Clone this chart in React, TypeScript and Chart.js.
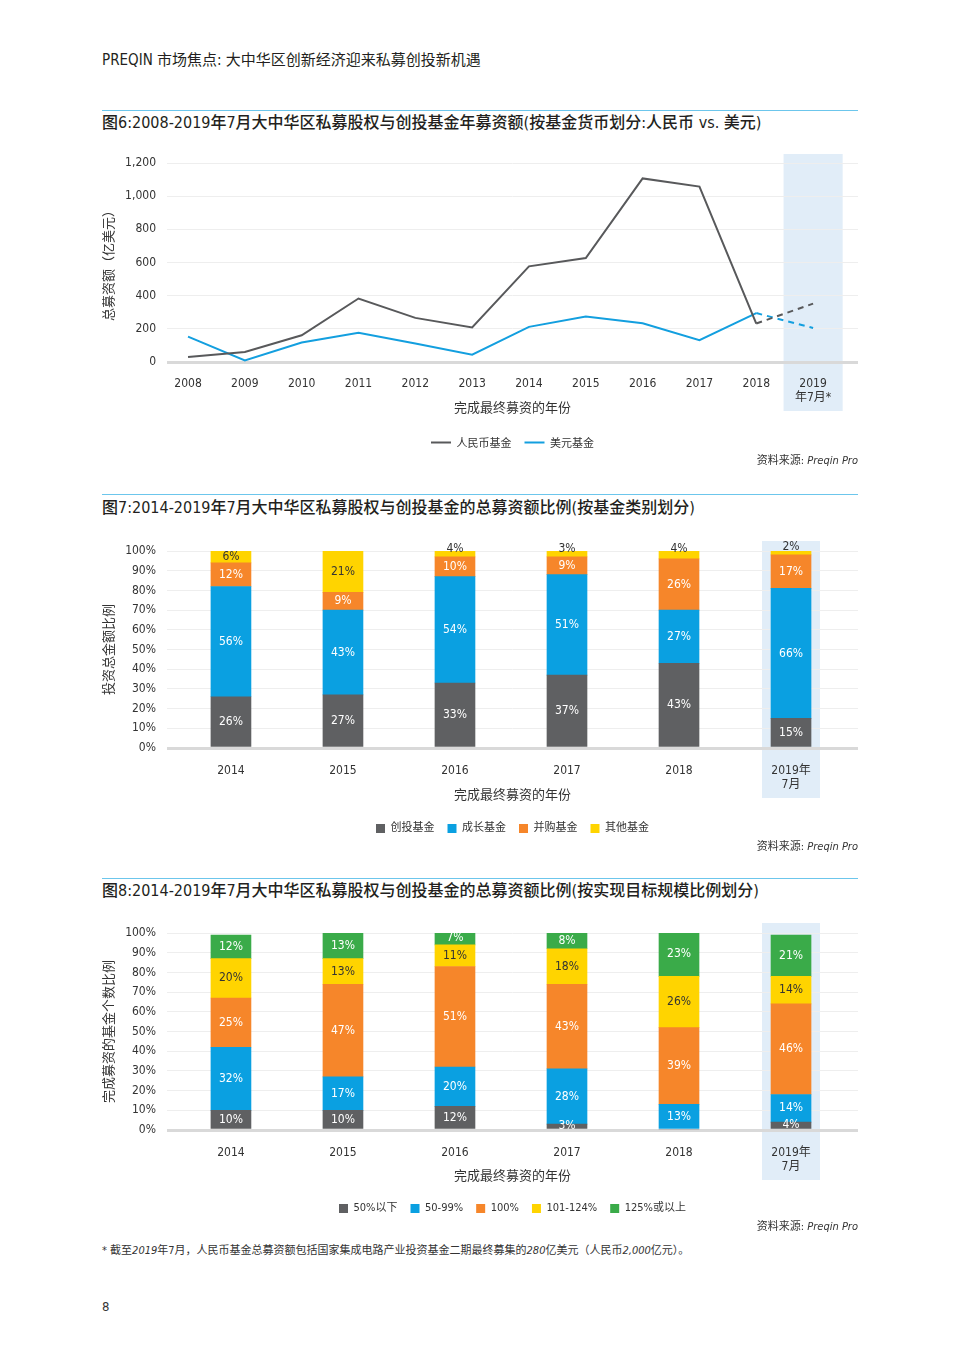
import { useEffect, useRef } from 'react';
import { Chart, registerables } from 'chart.js';

Chart.register(...registerables);

// ---------- data ----------
const lineYears = [2008, 2009, 2010, 2011, 2012, 2013, 2014, 2015, 2016, 2017, 2018, 2019];
const lineYearLabels: (string | string[])[] = ['2008', '2009', '2010', '2011', '2012', '2013', '2014', '2015', '2016', '2017', '2018', ['2019', '年7月*']];
const rmbFunds = [30, 60, 161, 383, 266, 208, 577, 627, 1107, 1058, 232, 352];
const usdFunds = [153, 10, 117, 177, 111, 44, 212, 274, 234, 131, 295, 205];
const lineYTicks = [0, 200, 400, 600, 800, 1000, 1200];
const lineSeriesNames = ['人民币基金', '美元基金'];

const barYears = [2014, 2015, 2016, 2017, 2018, 2019];
const barYearLabels: (string | string[])[] = ['2014', '2015', '2016', '2017', '2018', ['2019年', '7月']];
const pctTicks = [0, 10, 20, 30, 40, 50, 60, 70, 80, 90, 100];

const typeNames = ['创投基金', '成长基金', '并购基金', '其他基金'];
const vcShare = [26, 27, 33, 37, 43, 15];
const growthShare = [56, 43, 54, 51, 27, 66];
const buyoutShare = [12, 9, 10, 9, 26, 17];
const otherShare = [6, 21, 4, 3, 4, 2];

const sizeNames = ['50%以下', '50-99%', '100%', '101-124%', '125%或以上'];
const below50 = [10, 10, 12, 3, 0, 4];
const pct50to99 = [32, 17, 20, 28, 13, 14];
const pct100 = [25, 47, 51, 43, 39, 46];
const pct101to124 = [20, 13, 11, 18, 26, 14];
const pct125plus = [12, 13, 7, 8, 23, 21];

// ---------- styles ----------
const FONT = "'DejaVu Sans Condensed', 'Noto Sans CJK SC', sans-serif";
const CJK = "'Noto Sans CJK SC', sans-serif";
const TEXT = '#333333';
const C_GRAY = '#5f6062';
const C_BLUE = '#0aa0e1';
const C_ORANGE = '#f6862a';
const C_YELLOW = '#ffd400';
const C_GREEN = '#3aab49';
const LINE_GRAY = '#58595b';
const LINE_BLUE = '#139fdf';
const BAND = '#e1edf8';
const RULE = '#6cc6ec';

const typeColors = [C_GRAY, C_BLUE, C_ORANGE, C_YELLOW];
const typeLabelColors = ['#ffffff', '#ffffff', '#ffffff', '#333333'];
const sizeColors = [C_GRAY, C_BLUE, C_ORANGE, C_YELLOW, C_GREEN];
const sizeLabelColors = ['#ffffff', '#ffffff', '#ffffff', '#333333', '#ffffff'];

// ---------- plugins ----------
const bandPlugin = {
  id: 'band',
  beforeDraw(chart: any, _args: any, opts: any) {
    const { ctx, chartArea, scales } = chart;
    const l = scales.x.getPixelForValue(opts.center - opts.half);
    const r = scales.x.getPixelForValue(opts.center + opts.half);
    ctx.save();
    ctx.fillStyle = opts.color;
    ctx.fillRect(l, chartArea.top - opts.above, r - l, chartArea.bottom - chartArea.top + opts.above + opts.below);
    ctx.restore();
  },
};

const barLabelPlugin = {
  id: 'barLabels',
  afterDatasetsDraw(chart: any, _args: any, opts: any) {
    const ctx = chart.ctx;
    ctx.save();
    ctx.font = `12px ${FONT}`;
    ctx.textAlign = 'center';
    ctx.textBaseline = 'middle';
    const n = chart.data.datasets.length;
    chart.data.datasets.forEach((ds: any, di: number) => {
      const meta = chart.getDatasetMeta(di);
      meta.data.forEach((el: any, i: number) => {
        const v = ds.data[i].y;
        if (!v) return;
        const p = el.getProps(['x', 'y', 'base'], true);
        let cy = (p.y + p.base) / 2;
        if (opts.smallTop && di === n - 1 && v <= 4) {
          cy = Math.max(p.y, chart.chartArea.top) - 2 - (v <= 2 ? 2 : 0);
        }
        ctx.fillStyle = opts.colors[di];
        ctx.fillText(v + '%', p.x, cy);
      });
    });
    ctx.restore();
  },
};

function yGrid() {
  return {
    drawTicks: false,
    color: (c: any) => (c.tick && c.tick.value === 0 ? '#d9d9d9' : '#eeeeee'),
    lineWidth: (c: any) => (c.tick && c.tick.value === 0 ? 3 : 1),
  };
}

function makeLineChart(canvas: HTMLCanvasElement) {
  const colors = [LINE_GRAY, LINE_BLUE];
  const series = [rmbFunds, usdFunds];
  return new Chart(canvas, {
    type: 'line',
    data: {
      datasets: series.map((s, k) => ({
        label: lineSeriesNames[k],
        data: lineYears.map((x, i) => ({ x, y: s[i] })),
        borderColor: colors[k],
        backgroundColor: colors[k],
        borderWidth: 2,
        pointRadius: 0,
        tension: 0,
        segment: {
          borderDash: (c: any) => (c.p0DataIndex >= lineYears.length - 2 ? [6, 5] : undefined),
        },
      })),
    } as any,
    options: {
      animation: false,
      responsive: false,
      layout: { padding: { top: 22, right: 2, left: 0, bottom: 0 } },
      scales: {
        x: {
          type: 'linear',
          min: 2007.63,
          max: 2019.79,
          offset: false,
          afterBuildTicks: (s: any) => {
            s.ticks = lineYears.map((v) => ({ value: v }));
          },
          afterFit: (s: any) => {
            s.height = 62;
          },
          ticks: {
            autoSkip: false,
            maxRotation: 0,
            padding: 14.5,
            color: TEXT,
            font: { size: 12, family: FONT },
            callback: (_v: any, i: number) => lineYearLabels[i],
          },
          grid: { display: false, drawTicks: false },
          border: { display: false },
          title: { display: true, text: '完成最终募资的年份', color: TEXT, font: { size: 13, family: CJK }, padding: { top: 0, bottom: 9 } },
        },
        y: {
          min: 0,
          max: 1200,
          afterBuildTicks: (s: any) => {
            s.ticks = lineYTicks.map((v) => ({ value: v }));
          },
          afterFit: (s: any) => {
            s.width = 67;
          },
          ticks: {
            padding: 11,
            color: TEXT,
            font: { size: 12, family: FONT },
            callback: (v: any) => Number(v).toLocaleString('en-US'),
          },
          grid: yGrid(),
          border: { display: false },
          title: { display: true, text: '总募资额（亿美元）', color: TEXT, font: { size: 13, family: CJK }, padding: 0 },
        },
      },
      plugins: {
        legend: {
          position: 'bottom',
          fullSize: false,
          labels: {
            boxWidth: 20,
            boxHeight: 2,
            padding: 13,
            color: TEXT,
            font: { size: 11, family: CJK },
            generateLabels: (ch: any) =>
              ch.data.datasets.map((d: any, i: number) => ({
                text: d.label,
                fillStyle: d.borderColor,
                strokeStyle: d.borderColor,
                lineWidth: 0,
                hidden: false,
                datasetIndex: i,
                fontColor: TEXT,
              })),
          },
        },
        tooltip: { enabled: false },
        band: { center: 2019, half: 0.52, above: 9, below: 49, color: BAND },
      } as any,
    } as any,
    plugins: [bandPlugin],
  });
}

function makeBarChart(
  canvas: HTMLCanvasElement,
  names: string[],
  series: number[][],
  colors: string[],
  labelColors: string[],
  yTitle: string,
  xAxisHeight: number,
  titlePad: number,
  smallTop: boolean,
) {
  return new Chart(canvas, {
    type: 'bar',
    data: {
      datasets: series.map((s, k) => ({
        label: names[k],
        data: barYears.map((x, i) => ({ x, y: s[i] })),
        backgroundColor: colors[k],
        borderWidth: 0,
        barThickness: 40,
        clip: 0,
      })),
    } as any,
    options: {
      animation: false,
      responsive: false,
      layout: { padding: { top: 20, right: 2, left: 0, bottom: 0 } },
      scales: {
        x: {
          type: 'linear',
          stacked: true,
          offset: false,
          min: 2013.429,
          max: 2019.598,
          afterBuildTicks: (s: any) => {
            s.ticks = barYears.map((v) => ({ value: v }));
          },
          afterFit: (s: any) => {
            s.height = xAxisHeight;
          },
          ticks: {
            autoSkip: false,
            maxRotation: 0,
            padding: 15.5,
            color: TEXT,
            font: { size: 12, family: FONT },
            callback: (_v: any, i: number) => barYearLabels[i],
          },
          grid: { display: false, drawTicks: false, offset: false },
          border: { display: false },
          title: { display: true, text: '完成最终募资的年份', color: TEXT, font: { size: 13, family: CJK }, padding: { top: 0, bottom: titlePad } },
        },
        y: {
          stacked: true,
          min: 0,
          max: 100,
          afterBuildTicks: (s: any) => {
            s.ticks = pctTicks.map((v) => ({ value: v }));
          },
          afterFit: (s: any) => {
            s.width = 67;
          },
          ticks: {
            padding: 11,
            color: TEXT,
            font: { size: 12, family: FONT },
            callback: (v: any) => v + '%',
          },
          grid: yGrid(),
          border: { display: false },
          title: { display: true, text: yTitle, color: TEXT, font: { size: 13, family: CJK }, padding: 0 },
        },
      },
      plugins: {
        legend: {
          position: 'bottom',
          fullSize: false,
          labels: {
            boxWidth: 9,
            boxHeight: 9,
            padding: 13,
            color: TEXT,
            font: { size: 11, family: FONT },
          },
        },
        tooltip: { enabled: false },
        band: { center: 2019, half: 0.259, above: 10, below: 50, color: BAND },
        barLabels: { colors: labelColors, smallTop },
      } as any,
    } as any,
    plugins: [bandPlugin, barLabelPlugin],
  });
}

function ChartCanvas({ top, height, make }: { top: number; height: number; make: (c: HTMLCanvasElement) => any }) {
  const ref = useRef<HTMLCanvasElement | null>(null);
  useEffect(() => {
    if (!ref.current) return;
    const ch = make(ref.current);
    return () => ch.destroy();
  }, []);
  return (
    <canvas
      ref={ref}
      width={760}
      height={height}
      style={{ position: 'absolute', left: 100, top, width: 760, height }}
    />
  );
}

const abs = (left: number, top: number, extra: any = {}) => ({ position: 'absolute' as const, left, top, ...extra });

function Source({ center }: { center: number }) {
  return (
    <div style={{ position: 'absolute', right: 102, top: center - 8, lineHeight: '16px', fontSize: 11, color: TEXT, fontFamily: FONT, whiteSpace: 'nowrap' }}>
      资料来源: <i>Preqin Pro</i>
    </div>
  );
}

function Heading({ line, center, text }: { line: number; center: number; text: string }) {
  return (
    <>
      <div style={abs(102, line, { width: 756, height: 0, borderTop: `1px solid ${RULE}` })} />
      <div style={abs(102, center - 10, { lineHeight: '20px', fontSize: 16, fontWeight: 500, color: '#231f20', fontFamily: FONT, whiteSpace: 'nowrap' })}>
        {text}
      </div>
    </>
  );
}

export default function App() {
  return (
    <div style={{ position: 'relative', width: 960, height: 1357, background: '#ffffff', overflow: 'hidden', fontFamily: FONT }}>
      <style>{'body{margin:0;}'}</style>
      <div style={abs(102, 50, { lineHeight: '20px', fontSize: 15, color: '#231f20', whiteSpace: 'nowrap' })}>
        PREQIN 市场焦点: 大中华区创新经济迎来私募创投新机遇
      </div>

      <Heading line={110} center={123} text="图6:2008-2019年7月大中华区私募股权与创投基金年募资额(按基金货币划分:人民币 vs. 美元)" />
      <ChartCanvas top={141} height={317} make={makeLineChart} />
      <Source center={461} />

      <Heading line={494} center={508} text="图7:2014-2019年7月大中华区私募股权与创投基金的总募资额比例(按基金类别划分)" />
      <ChartCanvas
        top={531}
        height={313}
        make={(c) =>
          makeBarChart(c, typeNames, [vcShare, growthShare, buyoutShare, otherShare], typeColors, typeLabelColors, '投资总金额比例', 62, 8, true)
        }
      />
      <Source center={847} />

      <Heading line={878} center={891} text="图8:2014-2019年7月大中华区私募股权与创投基金的总募资额比例(按实现目标规模比例划分)" />
      <ChartCanvas
        top={913}
        height={311}
        make={(c) =>
          makeBarChart(c, sizeNames, [below50, pct50to99, pct100, pct101to124, pct125plus], sizeColors, sizeLabelColors, '完成募资的基金个数比例', 60, 7, false)
        }
      />
      <Source center={1227} />

      <div style={abs(102, 1243, { lineHeight: '16px', fontSize: 11, color: TEXT, whiteSpace: 'nowrap' })}>
        * 截至<i>2019</i>年7月，人民币基金总募资额包括国家集成电路产业投资基金二期最终募集的<i>280</i>亿美元（人民币<i>2,000</i>亿元）。
      </div>
      <div style={abs(102, 1298, { lineHeight: '18px', fontSize: 13, color: TEXT })}>8</div>
    </div>
  );
}
